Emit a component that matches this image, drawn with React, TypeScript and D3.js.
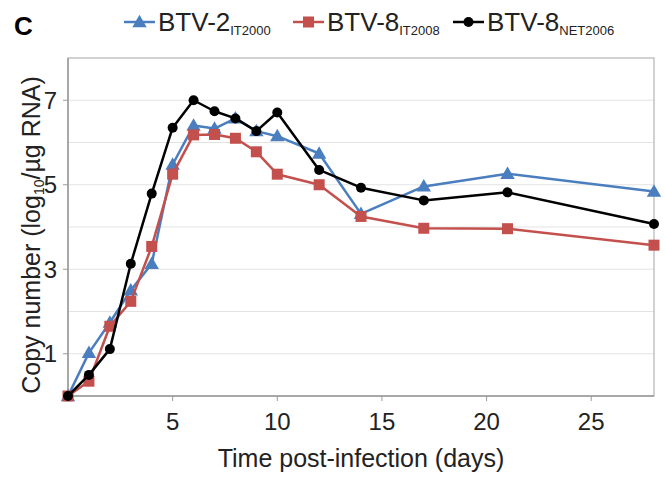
import React, { useEffect, useRef } from 'react';
import * as d3 from 'd3';

// days post-infection
const days = [0, 1, 2, 3, 4, 5, 6, 7, 8, 9, 10, 12, 14, 17, 21, 28];

// log10 copies / ug RNA
const btv2It2000 = [0, 1.02, 1.74, 2.5, 3.13, 5.48, 6.4, 6.33, 6.57, 6.27, 6.15, 5.74, 4.31, 4.96, 5.26, 4.84];
const btv8It2008 = [0, 0.35, 1.65, 2.24, 3.54, 5.25, 6.18, 6.19, 6.1, 5.78, 5.25, 5.0, 4.25, 3.97, 3.96, 3.57];
const btv8Net2006 = [0, 0.5, 1.11, 3.13, 4.79, 6.35, 7.0, 6.74, 6.57, 6.27, 6.71, 5.35, 4.93, 4.63, 4.82, 4.07];

const xTicks = [5, 10, 15, 20, 25];
const yTicks = [1, 3, 5, 7];
const yGrid = [1, 2, 3, 4, 5, 6, 7];

const seriesNames = ['BTV-2', 'BTV-8', 'BTV-8'];
const seriesSubs = ['IT2000', 'IT2008', 'NET2006'];
const seriesColors = ['#4a7ebf', '#c4504d', '#000000'];
const seriesShapes = ['triangle', 'square', 'circle'];

const FONT = 'Arial, "Liberation Sans", sans-serif';

const App = () => {
  const ref = useRef<SVGSVGElement>(null);

  useEffect(() => {
    const svg = d3.select(ref.current);
    svg.selectAll('*').remove();

    const left = 68, right = 654, top = 58, bottom = 396;
    const x = d3.scaleLinear().domain([0, 28]).range([left, right]);
    const y = d3.scaleLinear().domain([0, 8]).range([bottom, top]);

    // gridlines
    svg.append('g').selectAll('line').data(yGrid).enter().append('line')
      .attr('x1', left).attr('x2', right)
      .attr('y1', d => y(d)).attr('y2', d => y(d))
      .attr('stroke', '#e3e3e3').attr('stroke-width', 1);

    // frame
    svg.append('rect')
      .attr('x', left).attr('y', top)
      .attr('width', right - left).attr('height', bottom - top)
      .attr('fill', 'none').attr('stroke', '#b4b4b4').attr('stroke-width', 1.2);
    svg.append('line').attr('x1', left).attr('x2', left).attr('y1', top).attr('y2', bottom)
      .attr('stroke', '#9a9a9a').attr('stroke-width', 1.5);
    svg.append('line').attr('x1', left).attr('x2', right).attr('y1', bottom).attr('y2', bottom)
      .attr('stroke', '#9a9a9a').attr('stroke-width', 1.5);

    // x ticks
    const xg = svg.append('g');
    xg.selectAll('line').data(xTicks).enter().append('line')
      .attr('x1', d => x(d)).attr('x2', d => x(d))
      .attr('y1', bottom).attr('y2', bottom + 5)
      .attr('stroke', '#9a9a9a');
    xg.selectAll('text').data(xTicks).enter().append('text')
      .attr('x', d => x(d)).attr('y', 430)
      .attr('text-anchor', 'middle')
      .attr('font-family', FONT).attr('font-size', 24).attr('fill', '#222')
      .text(d => d);

    // y ticks
    const yg = svg.append('g');
    yg.selectAll('line').data(yTicks).enter().append('line')
      .attr('x1', left - 5).attr('x2', left)
      .attr('y1', d => y(d)).attr('y2', d => y(d))
      .attr('stroke', '#9a9a9a');
    yg.selectAll('text').data(yTicks).enter().append('text')
      .attr('x', 57).attr('y', d => y(d) + 8.5)
      .attr('text-anchor', 'end')
      .attr('font-family', FONT).attr('font-size', 24).attr('fill', '#222')
      .text(d => d);

    // axis titles
    svg.append('text')
      .attr('x', (left + right) / 2).attr('y', 467)
      .attr('text-anchor', 'middle')
      .attr('font-family', FONT).attr('font-size', 25).attr('fill', '#222')
      .text('Time post-infection (days)');

    const yt = svg.append('text')
      .attr('transform', 'translate(40,235) rotate(-90)')
      .attr('text-anchor', 'middle')
      .attr('font-family', FONT).attr('font-size', 25).attr('fill', '#222');
    yt.append('tspan').text('Copy number (log');
    yt.append('tspan').attr('font-size', 14).attr('dy', 4).text('10');
    yt.append('tspan').attr('dy', -4).text('/\u00b5g RNA)');

    // panel label
    svg.append('text')
      .attr('x', 14).attr('y', 35)
      .attr('font-family', FONT).attr('font-size', 26).attr('font-weight', 'bold')
      .text('C');

    const seriesData = [btv2It2000, btv8It2008, btv8Net2006];
    const line = d3.line<number>().x((_, i) => x(days[i])).y(d => y(d));

    const drawMarker = (g: any, shape: string, cx: number, cy: number, color: string) => {
      if (shape === 'triangle') {
        g.append('path')
          .attr('d', d3.symbol().type(d3.symbolTriangle).size(90)())
          .attr('transform', `translate(${cx},${cy + 1})`)
          .attr('fill', color);
      } else if (shape === 'square') {
        g.append('rect')
          .attr('x', cx - 5.5).attr('y', cy - 5.5).attr('width', 11).attr('height', 11)
          .attr('fill', color);
      } else {
        g.append('circle').attr('cx', cx).attr('cy', cy).attr('r', 5).attr('fill', color);
      }
    };

    seriesData.forEach((vals, si) => {
      const g = svg.append('g');
      g.append('path')
        .attr('d', line(vals))
        .attr('fill', 'none')
        .attr('stroke', seriesColors[si])
        .attr('stroke-width', 2.5)
        .attr('stroke-linejoin', 'round');
      vals.forEach((v, i) => drawMarker(g, seriesShapes[si], x(days[i]), y(v), seriesColors[si]));
    });

    // legend
    const legendX = [124, 293, 453];
    seriesNames.forEach((name, i) => {
      const g = svg.append('g');
      const lx = legendX[i];
      g.append('line')
        .attr('x1', lx).attr('x2', lx + 31).attr('y1', 22).attr('y2', 22)
        .attr('stroke', seriesColors[i]).attr('stroke-width', 2.5);
      drawMarker(g, seriesShapes[i], lx + 15.5, 22, seriesColors[i]);
      const t = g.append('text')
        .attr('x', lx + 34).attr('y', 31)
        .attr('font-family', FONT).attr('font-size', 26).attr('fill', '#222');
      t.append('tspan').text(name);
      t.append('tspan').attr('font-size', 13).attr('dy', 4).text(seriesSubs[i]);
    });
  }, []);

  return (
    <svg ref={ref} width={665} height={480}
      style={{ position: 'absolute', left: 0, top: 0, background: '#fff' }} />
  );
};

export default App;
